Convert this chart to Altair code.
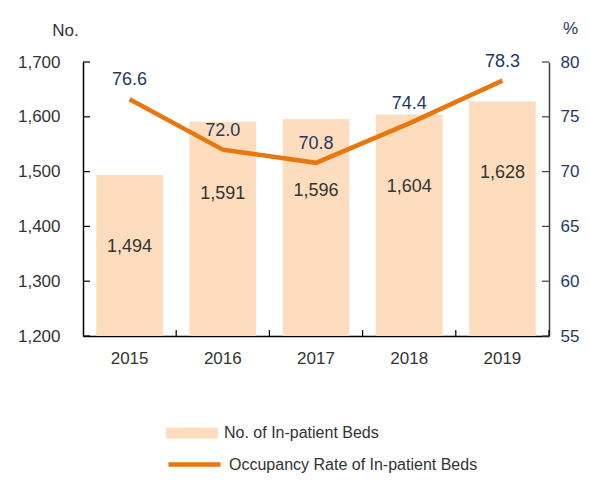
import altair as alt
import pandas as pd

years = ["2015", "2016", "2017", "2018", "2019"]
beds = [1494, 1591, 1596, 1604, 1628]
rates = [76.6, 72.0, 70.8, 74.4, 78.3]
beds_ticks = [1200, 1300, 1400, 1500, 1600, 1700]
rate_ticks = [55, 60, 65, 70, 75, 80]
bed_series = "No. of In-patient Beds"
rate_series = "Occupancy Rate of In-patient Beds"

df = pd.DataFrame({"year": years, "beds": beds, "rate": rates,
                   "bed_series": bed_series, "rate_series": rate_series})
bt = pd.DataFrame({"v": beds_ticks})
rt = pd.DataFrame({"v": rate_ticks})

FONT = "Liberation Sans, Arial, sans-serif"
W, H = 466, 274
PI = 0.284
STEP = W / len(years)
BAR_C = "#FDDDBD"
LINE_C = "#E8770E"
NAVY = "#1F3864"
DARK = "#333333"

xscale = alt.Scale(domain=years, paddingInner=PI, paddingOuter=PI / 2)
beds_scale = alt.Scale(domain=[beds_ticks[0], beds_ticks[-1]], nice=False, zero=False)
rate_scale = alt.Scale(domain=[rate_ticks[0], rate_ticks[-1]], nice=False, zero=False)

x_axis = alt.Axis(title=None, labelAngle=0, ticks=False, tickSize=0, labelPadding=14,
                  labelFontSize=17, labelColor=DARK, labelFont=FONT,
                  domainColor="#000000", domainWidth=1.5)
x_enc = alt.X("year:N", scale=xscale, axis=x_axis)

beds_axis = alt.Axis(orient="left", values=beds_ticks, labelExpr="format(datum.value, ',')",
                     ticks=False, tickSize=0,
                     labelPadding=23, labelFontSize=17, labelFont=FONT, labelColor=DARK,
                     domainColor="#000000", domainWidth=1.5, grid=False,
                     title="No.", titleAngle=0, titleAlign="center", titleBaseline="alphabetic",
                     titleX=-18, titleY=-27, titleFontSize=17, titleFont=FONT,
                     titleFontWeight="normal", titleColor=DARK)
rate_axis = alt.Axis(orient="right", values=rate_ticks, labelExpr="format(datum.value, 'd')",
                     ticks=False, tickSize=0,
                     labelPadding=11, labelFontSize=17, labelFont=FONT, labelColor=NAVY,
                     domainColor="#404040", domainWidth=1.5, grid=False,
                     title="%", titleAngle=0, titleAlign="center", titleBaseline="alphabetic",
                     titleX=21, titleY=-29, titleFontSize=17, titleFont=FONT,
                     titleFontWeight="normal", titleColor=NAVY)

bars = alt.Chart(df).mark_bar(clip=True).encode(
    x=x_enc,
    y=alt.Y("beds:Q", scale=beds_scale, axis=beds_axis),
    color=alt.Color("bed_series:N",
                    scale=alt.Scale(domain=[bed_series], range=[BAR_C]),
                    legend=alt.Legend(title=None, orient="none", legendX=83, legendY=345,
                                      symbolType="M-1,-0.21H1V0.21H-1Z", symbolSize=2704,
                                      symbolStrokeWidth=0, symbolOpacity=1, padding=0,
                                      labelOffset=6, labelFontSize=16, labelFont=FONT,
                                      labelColor=DARK, labelLimit=500)),
)

bar_text = alt.Chart(df).mark_text(dy=72, fontSize=18, font=FONT, color=DARK).encode(
    x=x_enc,
    y=alt.Y("beds:Q", scale=beds_scale, axis=beds_axis),
    text=alt.Text("beds:Q", format=","),
)

beds_tick_rules = alt.Chart(bt).mark_rule(color="#000000", strokeWidth=1.2).encode(
    y=alt.Y("v:Q", scale=beds_scale, axis=beds_axis),
    x=alt.value(0), x2=alt.value(7),
)

x_tick_rules = alt.Chart(df).mark_rule(color="#000000", strokeWidth=1.2,
                                       xOffset=STEP * PI / 2).encode(
    x=alt.X("year:N", scale=xscale, axis=x_axis, bandPosition=1),
    y=alt.value(H - 6), y2=alt.value(H),
)

line = alt.Chart(df).mark_line(strokeWidth=4.5).encode(
    x=x_enc,
    y=alt.Y("rate:Q", scale=rate_scale, axis=rate_axis),
    stroke=alt.Stroke("rate_series:N",
                      scale=alt.Scale(domain=[rate_series], range=[LINE_C]),
                      legend=alt.Legend(title=None, orient="none", legendX=83, legendY=374,
                                        symbolType="stroke", symbolSize=2704,
                                        symbolStrokeWidth=4.5, padding=0,
                                        labelOffset=6, labelFontSize=16, labelFont=FONT,
                                        labelColor=DARK, labelLimit=500)),
)

line_text = alt.Chart(df).mark_text(dy=-19, fontSize=18, font=FONT, color=NAVY).encode(
    x=x_enc,
    y=alt.Y("rate:Q", scale=rate_scale, axis=rate_axis),
    text=alt.Text("rate:Q", format=".1f"),
)

rate_tick_rules = alt.Chart(rt).mark_rule(color="#404040", strokeWidth=1.2).encode(
    y=alt.Y("v:Q", scale=rate_scale, axis=rate_axis),
    x=alt.value(W - 7), x2=alt.value(W),
)

beds_layer = alt.layer(bars, bar_text, beds_tick_rules, x_tick_rules)
rate_layer = alt.layer(line, line_text, rate_tick_rules)

chart = alt.layer(beds_layer, rate_layer).resolve_scale(
    y="independent"
).properties(
    width=W, height=H,
    autosize=alt.AutoSizeParams(type="none"),
    padding={"left": 75, "top": 54, "right": 32, "bottom": 138},
).configure_view(stroke=None)

chart.save("out.html", embed_options={"renderer": "svg", "actions": False})
